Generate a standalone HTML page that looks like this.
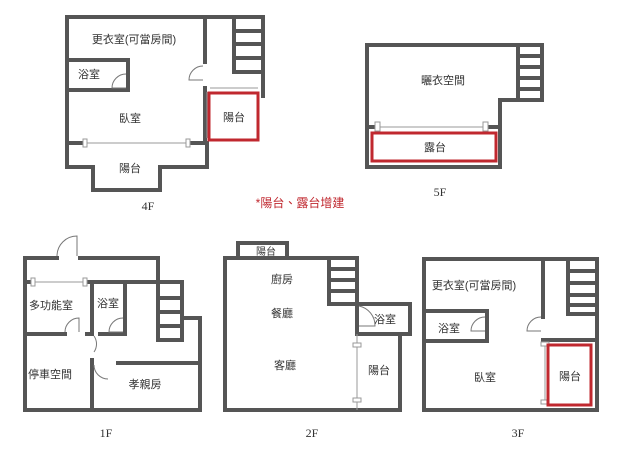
<!DOCTYPE html>
<html><head><meta charset="utf-8"><style>
body{margin:0;background:#fff}
svg{display:block}
text{font-family:"Liberation Sans","Noto Sans CJK TC",sans-serif;font-size:11px;fill:#333;text-anchor:middle}
.f{font-family:"Liberation Serif",serif;font-size:12px}
</style></head><body>
<svg width="640" height="470" viewBox="0 0 640 470" xmlns="http://www.w3.org/2000/svg">
<g fill="none" stroke="#555" stroke-width="4" stroke-linejoin="miter" stroke-linecap="square">
<!-- 4F -->
<polyline points="67,167 67,17 263,17 263,96"/>
<line x1="67" y1="143" x2="85" y2="143"/>
<polyline points="188,143 207,143 207,167 160,167 160,190 93,190 93,167 67,167"/>
<line x1="205" y1="17" x2="205" y2="62"/>
<line x1="205" y1="88" x2="205" y2="143"/>
<polyline points="234,17 234,72 263,72"/>
<line x1="234" y1="31" x2="263" y2="31"/><line x1="234" y1="44" x2="263" y2="44"/><line x1="234" y1="58" x2="263" y2="58"/>
<polyline points="67,60 128,60 128,90 67,90"/>
<!-- 5F -->
<polyline points="378,127 367,127 367,45 542,45 542,100 500,100 500,167 367,167 367,127"/>
<polyline points="485,127 500,127"/>
<line x1="518" y1="45" x2="518" y2="100"/>
<line x1="518" y1="56" x2="542" y2="56"/><line x1="518" y1="67" x2="542" y2="67"/><line x1="518" y1="78" x2="542" y2="78"/><line x1="518" y1="89" x2="542" y2="89"/>
<!-- 1F -->
<polyline points="57,258 25,258 25,410 200,410 200,318 182,318 182,282 158,282 158,258 80,258"/>
<line x1="25" y1="282" x2="33" y2="282"/>
<line x1="85" y1="282" x2="158" y2="282"/>
<polyline points="158,282 158,340 182,340 182,318"/>
<line x1="158" y1="298" x2="182" y2="298"/><line x1="158" y1="312" x2="182" y2="312"/><line x1="158" y1="326" x2="182" y2="326"/>
<line x1="92" y1="282" x2="92" y2="334"/>
<line x1="92" y1="360" x2="92" y2="410"/>
<polyline points="125,282 125,334 100,334"/>
<line x1="25" y1="334" x2="65" y2="334"/>
<line x1="87" y1="334" x2="92" y2="334"/>
<line x1="118" y1="363" x2="200" y2="363"/>
<!-- 2F -->
<polyline points="238,258 238,243 287,243 287,258"/>
<polyline points="357,304 357,258 225,258 225,410 400,410 400,334 410,334 410,304 357,304"/>
<polyline points="357,304 357,334 400,334"/>
<polyline points="329,258 329,304 357,304"/>
<line x1="329" y1="269" x2="357" y2="269"/><line x1="329" y1="280" x2="357" y2="280"/><line x1="329" y1="291" x2="357" y2="291"/>
<!-- 3F -->
<polyline points="424,259 597,259 597,410 424,410 424,259"/>
<line x1="543" y1="259" x2="543" y2="317"/>
<line x1="543" y1="340" x2="597" y2="340"/>
<polyline points="568,259 568,314 597,314"/>
<line x1="568" y1="271" x2="597" y2="271"/><line x1="568" y1="283" x2="597" y2="283"/><line x1="568" y1="295" x2="597" y2="295"/><line x1="568" y1="305" x2="597" y2="305"/>
<polyline points="424,311 487,311 487,341 424,341"/>
</g>
<g stroke="#999" stroke-width="1" fill="#fff">
<line x1="85" y1="143" x2="188" y2="143"/>
<line x1="207" y1="92" x2="207" y2="138"/>
<line x1="210" y1="88" x2="258" y2="88"/>
<line x1="378" y1="127" x2="485" y2="127"/>
<line x1="33" y1="282" x2="85" y2="282"/>
<line x1="357" y1="334" x2="357" y2="410"/>
<line x1="545" y1="342" x2="545" y2="404"/>
<rect x="83" y="139" width="4" height="8"/><rect x="186" y="139" width="4" height="8"/>
<rect x="375" y="122" width="5" height="9"/><rect x="483" y="122" width="5" height="9"/>
<rect x="31" y="278" width="4" height="8"/><rect x="83" y="278" width="4" height="8"/>
<rect x="353" y="343" width="8" height="4"/><rect x="353" y="398" width="8" height="4"/>
<rect x="541" y="342" width="8" height="4"/><rect x="541" y="400" width="8" height="4"/>
</g>
<g stroke="#777" stroke-width="1" fill="none">
<path d="M126,74 A14,14 0 0 0 112,88 L126,88"/>
<path d="M203,66 A14,14 0 0 0 189,80 L203,80"/>
<path d="M57,256 A20,20 0 0 1 77,236 L77,256"/>
<path d="M123,318 A14,14 0 0 0 109,332 L123,332"/>
<path d="M65,332 A14,14 0 0 1 79,318 L79,332"/>
<path d="M94,336 A14,14 0 0 1 94,352"/>
<path d="M94,365 A14,14 0 0 0 108,379"/>
<path d="M359,306 A20,20 0 0 1 375,326 L359,326"/>
<path d="M485,317 A14,14 0 0 0 471,331 L485,331"/>
<path d="M541,317 A14,14 0 0 0 527,331 L541,331"/>
</g>
<g fill="none" stroke="#c0282f" stroke-width="3">
<rect x="209" y="93" width="49" height="47"/>
<rect x="372" y="133" width="124" height="28"/>
<rect x="548" y="345" width="43" height="60"/>
</g>
<text x="134" y="43">更衣室(可當房間)</text>
<text x="89" y="78">浴室</text>
<text x="130" y="122">臥室</text>
<text x="130" y="172">陽台</text>
<text x="234" y="121">陽台</text>
<text x="443" y="84">曬衣空間</text>
<text x="435" y="151">露台</text>
<text x="51" y="309">多功能室</text>
<text x="108" y="307">浴室</text>
<text x="50" y="378">停車空間</text>
<text x="145" y="388">孝親房</text>
<text x="266" y="255" style="font-size:10px">陽台</text>
<text x="282" y="283">廚房</text>
<text x="282" y="317">餐廳</text>
<text x="285" y="369">客廳</text>
<text x="385" y="323">浴室</text>
<text x="379" y="374">陽台</text>
<text x="474" y="289">更衣室(可當房間)</text>
<text x="449" y="332">浴室</text>
<text x="485" y="381">臥室</text>
<text x="570" y="380">陽台</text>
<text x="300" y="207" style="fill:#c0282f;font-size:12px">*陽台、露台增建</text>
<text class="f" x="148" y="210">4F</text>
<text class="f" x="440" y="196">5F</text>
<text class="f" x="106" y="437">1F</text>
<text class="f" x="312" y="437">2F</text>
<text class="f" x="518" y="437">3F</text>
</svg>
</body></html>
